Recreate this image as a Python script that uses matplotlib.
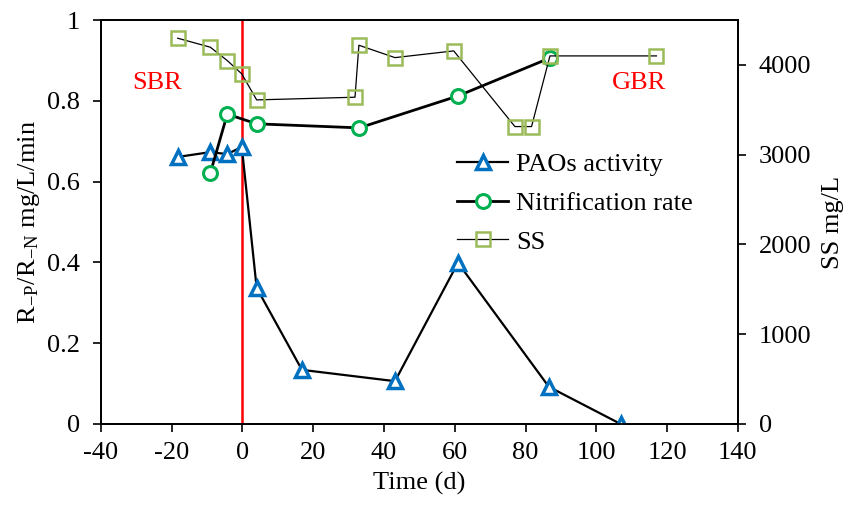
import matplotlib
matplotlib.use("Agg")
import matplotlib.pyplot as plt

plt.rcParams["font.family"] = ["Liberation Serif", "DejaVu Serif"]
plt.rcParams["mathtext.fontset"] = "stix"
plt.rcParams["axes.unicode_minus"] = False

# ===== data =====
pao_day = [-18.3, -9.1, -4.3, -0.2, 4.0, 16.8, 43.1, 60.9, 86.6, 106.9]
pao_rate = [0.661, 0.673, 0.668, 0.686, 0.337, 0.134, 0.106, 0.399, 0.092, 0.0]

nit_day = [-9.1, -4.3, 4.0, 33.0, 60.9, 86.9]
nit_rate = [0.621, 0.767, 0.743, 0.733, 0.812, 0.906]

ss_day = [-18.3, -9.1, -4.3, -0.2, 4.0, 31.8, 32.9, 43.1, 59.7, 77.0, 81.7, 86.9, 117.0]
ss_val = [4297, 4197, 4048, 3900, 3610, 3640, 4219, 4081, 4156, 3313, 3313, 4100, 4100]

fs = 19

fig, ax = plt.subplots(figsize=(8.5, 5.09), dpi=100)
fig.subplots_adjust(left=0.1188, right=0.868, top=0.9607, bottom=0.167)
ax2 = ax.twinx()

# SBR / GBR switch
ax.axvline(0, color="red", lw=1.8, zorder=1)

l1, = ax.plot(pao_day, pao_rate, color="black", lw=1.6, marker="^", ms=10,
              mfc="white", mec="#0070C0", mew=2.5, label="PAOs activity", zorder=3)
l2, = ax.plot(nit_day, nit_rate, color="black", lw=2.0, marker="o", ms=10,
              mfc="white", mec="#00B050", mew=2.2, label="Nitrification rate", zorder=3)
l3, = ax2.plot(ss_day, ss_val, color="black", lw=0.9, marker="s", ms=9.5,
               mfc="none", mec="#9BBB59", mew=1.8, label="SS")

ax.set_xlim(-40, 140)
ax.set_ylim(0, 1)
ax2.set_ylim(0, 4500)
ax.set_xticks(range(-40, 141, 20))
ax.set_yticks([0, 0.2, 0.4, 0.6, 0.8, 1])
ax.set_yticklabels(["0", "0.2", "0.4", "0.6", "0.8", "1"])
ax2.set_yticks(range(0, 4001, 1000))

for a in (ax, ax2):
    a.tick_params(direction="out", length=6, width=1.2, labelsize=fs, pad=9)
    for s in a.spines.values():
        s.set_linewidth(1.3)
ax.tick_params(axis="x", pad=7)

ax.set_xlabel("Time (d)", fontsize=fs, labelpad=6)
ax.set_ylabel(r"R$_{\mathregular{-P}}$/R$_{\mathregular{-N}}$ mg/L/min", fontsize=fs, labelpad=4)
ax2.set_ylabel("SS mg/L", fontsize=fs, labelpad=8)

ax.text(-24, 0.843, "SBR", color="red", fontsize=fs, ha="center", va="center")
ax.text(112, 0.843, "GBR", color="red", fontsize=fs, ha="center", va="center")

ax2.legend([l1, l2, l3], ["PAOs activity", "Nitrification rate", "SS"],
           loc="upper left", bbox_to_anchor=(0.559, 0.672), frameon=False,
           fontsize=fs, handlelength=1.95, handletextpad=0.28, labelspacing=0.58,
           borderpad=0, borderaxespad=0)

fig.savefig("out.png", dpi=100)
